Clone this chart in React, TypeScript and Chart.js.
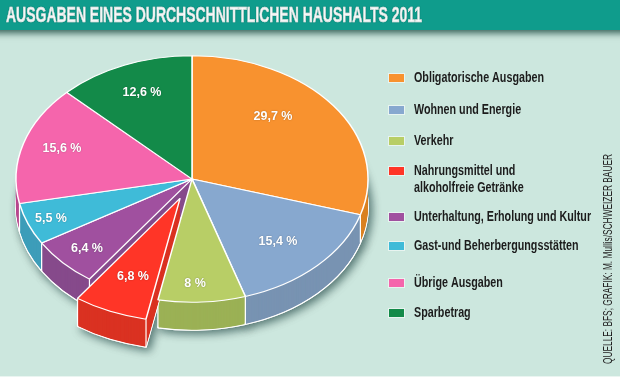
import React, { useEffect, useRef } from "react";
import { Chart, registerables } from "chart.js";

Chart.register(...registerables);

const TITLE = "AUSGABEN EINES DURCHSCHNITTLICHEN HAUSHALTS 2011";
const SOURCE = "QUELLE: BFS; GRAFIK: M. Mullis/SCHWEIZER BAUER";
const categories = [
  ["Obligatorische Ausgaben"],
  ["Wohnen und Energie"],
  ["Verkehr"],
  ["Nahrungsmittel und", "alkoholfreie Getränke"],
  ["Unterhaltung, Erholung und Kultur"],
  ["Gast-und Beherbergungsstätten"],
  ["Übrige Ausgaben"],
  ["Sparbetrag"],
];
const values = [29.7, 15.4, 8, 6.8, 6.4, 5.5, 15.6, 12.6];
const valueLabels = ["29,7 %", "15,4 %", "8 %", "6,8 %", "6,4 %", "5,5 %", "15,6 %", "12,6 %"];
const topColors = ["#F8922F", "#87A8CF", "#B8CE66", "#FF3527", "#A0509F", "#3FBBD8", "#F565AC", "#138A49"];
const wallColors = ["#DA8222", "#7893B2", "#9BB155", "#DA3222", "#864A8B", "#3D9DB9", "#B8488F", "#0F7038"];
const explodedIndex = 3;
const wallOrder = [7, 6, 5, 4, 0, 1, 2, 3];

// layout
const CX = 192, CY = 179, RX = 176, SQUASH = 0.7, DEPTH = 28, EXPLODE = 30;
const labelPos = [[273, 117], [278, 242], [195, 284], [133, 277], [87, 249], [51, 219], [62, 149], [142, 93]];
const legendY = [[78], [110], [141], [171, 188], [217], [246], [283], [313]];
const SANS = '"Liberation Sans", sans-serif';

// draw text squeezed horizontally, the way a condensed face would look
function condensed(ctx: any, text: string, x: number, y: number, sx: number, stroke = 0) {
  ctx.save();
  ctx.translate(x, y);
  ctx.scale(sx, 1);
  ctx.fillText(text, 0, 0);
  if (stroke > 0) {
    ctx.strokeStyle = ctx.fillStyle;
    ctx.lineWidth = stroke;
    ctx.strokeText(text, 0, 0);
  }
  ctx.restore();
}

const piePlugin = {
  id: "pie3d",
  afterDatasetsUpdate(chart: any) {
    const arc = chart.getDatasetMeta(0).data[explodedIndex];
    const mid = (arc.startAngle + arc.endAngle) / 2;
    arc.x += Math.cos(mid) * EXPLODE;
    arc.y += Math.sin(mid) * EXPLODE;
  },
  beforeDraw(chart: any) {
    const { ctx } = chart;
    ctx.save();
    ctx.fillStyle = "#CCE7DE";
    ctx.fillRect(0, 0, 620, 377);
    ctx.fillStyle = "#EAF5F1";
    ctx.fillRect(0, 376, 620, 1);
    ctx.shadowColor = "rgba(0,50,40,0.75)";
    ctx.shadowBlur = 7;
    ctx.shadowOffsetY = 3;
    ctx.fillStyle = "#0F9C8C";
    ctx.fillRect(-20, -20, 660, 50);
    ctx.restore();
  },
  beforeDatasetDraw(chart: any, args: any) {
    const { ctx } = chart;
    const arcs = args.meta.data;
    ctx.save();
    ctx.translate(0, CY);
    ctx.scale(1, SQUASH);
    ctx.translate(0, -CY);
    const drawWall = (i: number, shadow: boolean) => {
      const arc = arcs[i];
      const base = arc.options;
      for (let d = DEPTH; d >= 1; d--) {
        ctx.save();
        ctx.translate(0, d / SQUASH);
        if (d === DEPTH && shadow) {
          ctx.shadowColor = "rgba(0,40,40,0.6)";
          ctx.shadowBlur = 8;
          ctx.shadowOffsetX = 3;
          ctx.shadowOffsetY = 3;
        }
        arc.options = { ...base, backgroundColor: wallColors[i], borderWidth: d === DEPTH ? 1.5 : 0 };
        arc.draw(ctx);
        ctx.restore();
      }
      arc.options = base;
      for (const a of [arc.startAngle, arc.endAngle]) {
        if (Math.sin(a) > 0) {
          const x = arc.x + Math.cos(a) * arc.outerRadius;
          const y = arc.y + Math.sin(a) * arc.outerRadius;
          ctx.strokeStyle = "#FFFFFF";
          ctx.lineWidth = 1.2;
          ctx.beginPath();
          ctx.moveTo(x, y);
          ctx.lineTo(x, y + DEPTH / SQUASH);
          ctx.stroke();
        }
      }
    };
    wallOrder.forEach((i) => drawWall(i, true));
    wallOrder.forEach((i) => drawWall(i, false));
  },
  afterDatasetDraw(chart: any) {
    chart.ctx.restore();
  },
  afterDraw(chart: any) {
    const { ctx } = chart;
    ctx.save();
    ctx.textBaseline = "middle";
    ctx.textAlign = "left";
    // title
    ctx.save();
    ctx.font = `bold 22px ${SANS}`;
    ctx.fillStyle = "#FFFFFF";
    ctx.shadowColor = "rgba(0,60,50,0.6)";
    ctx.shadowBlur = 1;
    condensed(ctx, TITLE, 6, 16, 416 / ctx.measureText(TITLE).width, 0.5);
    ctx.restore();
    // value labels
    ctx.save();
    ctx.font = `bold 12.5px ${SANS}`;
    ctx.textAlign = "center";
    ctx.fillStyle = "#FFFFFF";
    ctx.shadowColor = "rgba(0,0,0,0.35)";
    ctx.shadowBlur = 1.5;
    valueLabels.forEach((t, i) => ctx.fillText(t, labelPos[i][0], labelPos[i][1]));
    ctx.restore();
    // legend
    ctx.font = `bold 14.5px ${SANS}`;
    const legendScale = 130 / ctx.measureText(categories[0][0]).width;
    categories.forEach((lines, i) => {
      const ys = legendY[i];
      ctx.fillStyle = "rgba(255,255,255,0.55)";
      ctx.fillRect(388, ys[0] - 5, 17, 10);
      ctx.fillStyle = topColors[i];
      ctx.fillRect(389, ys[0] - 4, 15, 8);
      ctx.fillStyle = "#1C1C1C";
      lines.forEach((l, k) => condensed(ctx, l, 414, ys[k], legendScale));
    });
    // source
    ctx.save();
    ctx.translate(609, 364);
    ctx.rotate(-Math.PI / 2);
    ctx.font = `12.5px ${SANS}`;
    ctx.fillStyle = "#222222";
    condensed(ctx, SOURCE, 0, 0, 210 / ctx.measureText(SOURCE).width);
    ctx.restore();
    ctx.restore();
  },
};

export default function App() {
  const ref = useRef<HTMLCanvasElement>(null);
  useEffect(() => {
    document.body.style.margin = "0";
    const chart = new Chart(ref.current as HTMLCanvasElement, {
      type: "pie",
      data: {
        labels: categories.map((c) => c.join(" ")),
        datasets: [
          {
            data: values,
            backgroundColor: topColors,
            borderColor: "#FFFFFF",
            borderWidth: 1.5,
            clip: false,
          } as any,
        ],
      },
      options: {
        responsive: false,
        animation: false,
        events: [],
        radius: RX,
        layout: { padding: { left: 0, top: 0, right: 620 - 2 * CX, bottom: 377 - 2 * CY } },
        plugins: { legend: { display: false }, tooltip: { enabled: false }, title: { display: false } },
      } as any,
      plugins: [piePlugin as any],
    });
    return () => chart.destroy();
  }, []);
  return <canvas ref={ref} width={620} height={377} style={{ display: "block" }} />;
}
